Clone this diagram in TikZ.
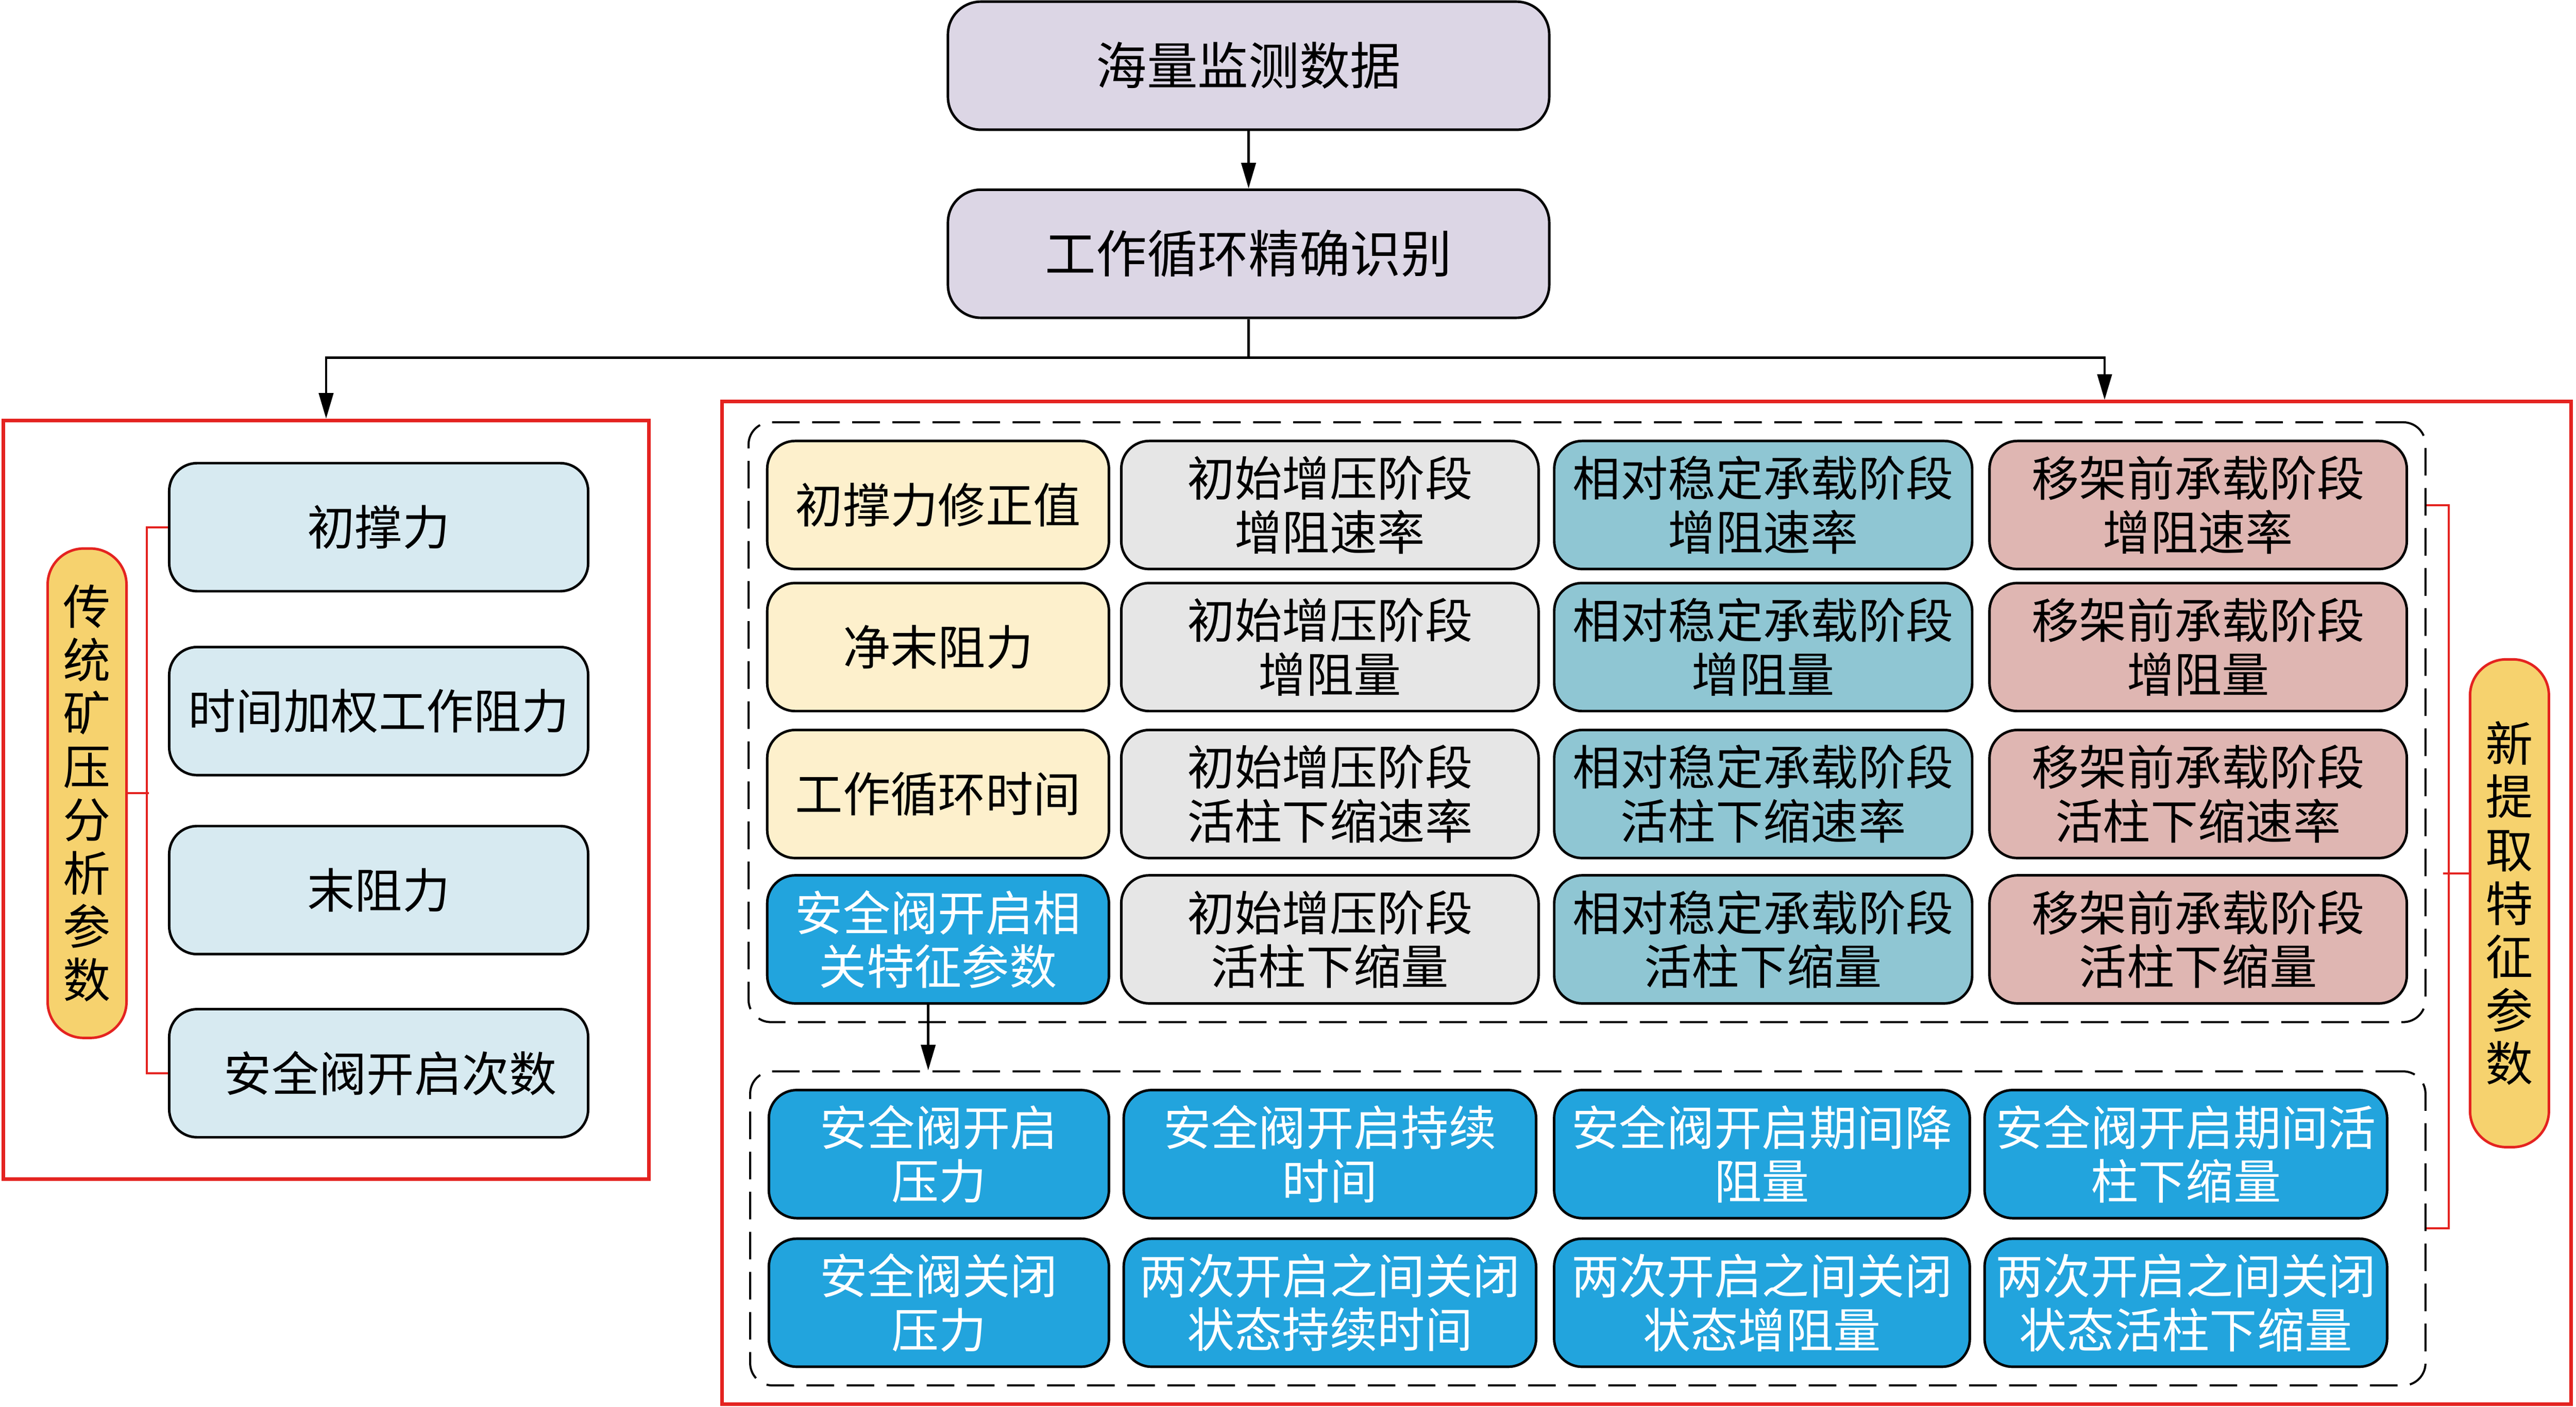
\documentclass[tikz,border=0pt]{standalone}
\usepackage{fontspec}
\setmainfont{Noto Sans CJK SC}
\usetikzlibrary{positioning,arrows.meta,fit}

\definecolor{boxpurple}{HTML}{DCD6E5}
\definecolor{boxltblue}{HTML}{D7EAF1}
\definecolor{labyellow}{HTML}{F6D26E}
\definecolor{cellcream}{HTML}{FDF0CC}
\definecolor{cellgray}{HTML}{E6E6E6}
\definecolor{cellteal}{HTML}{8FC6D3}
\definecolor{cellpink}{HTML}{DFB6B2}
\definecolor{cellblue}{HTML}{22A4DD}
\definecolor{framered}{HTML}{E42320}

\tikzset{
  base/.style={draw=black, line width=1.1pt, rounded corners=4.25mm, align=center,
    inner sep=0pt, font=\fontsize{20.6pt}{23.3pt}\selectfont},
  topbox/.style={base, fill=boxpurple, minimum width=91.5mm, minimum height=19.5mm,
    rounded corners=5mm, font=\fontsize{22pt}{26pt}\selectfont},
  lbox/.style={base, fill=boxltblue, minimum width=63.75mm, minimum height=19.5mm},
  cell/.style={base, minimum height=19.5mm},
  wa/.style={minimum width=52mm},
  wb/.style={minimum width=63.5mm},
  wc/.style={minimum width=63.6mm},
  vlab/.style={draw=framered, line width=1.1pt, fill=labyellow, rounded corners=5.5mm,
    minimum width=12mm, align=center, inner sep=0pt, font=\fontsize{20.6pt}{23.1pt}\selectfont},
  frame/.style={draw=framered, line width=1.5pt, inner sep=0pt},
  group/.style={draw, line width=0.9pt, dash pattern=on 4.2mm off 1.9mm,
    rounded corners=3.4mm, inner sep=2.65mm},
  arr/.style={-{Triangle[length=3.9mm,width=2.2mm]}, line width=1pt},
  redln/.style={draw=framered, line width=0.9pt}
}

\begin{document}
\begin{tikzpicture}[x=0.25mm, y=-0.25mm]
  \useasboundingbox (0,0) rectangle (1568,856.7);

  % data flow
  \node[topbox] (data) at (760,40) {海量监测数据};
  \node[topbox] (cycle) at (760,154.5) {工作循环精确识别};

  % traditional parameters
  \node[frame, minimum width=98.25mm, minimum height=115.5mm] (oldframe) at (198.5,487) {};
  \node[lbox] (cz) at (230.5,321) {初撑力};
  \node[lbox] (sj) at (230.5,433) {时间加权工作阻力};
  \node[lbox] (mz) at (230.5,542) {末阻力};
  \node[lbox] (aq) at (230.5,653.5) {\hspace*{0.5em}安全阀开启次数};
  \node[vlab, minimum height=74.5mm] (oldlab) at (53,483) {传\\统\\矿\\压\\分\\析\\参\\数};

  % new parameters
  \node[frame, minimum width=281.4mm, minimum height=152.6mm] (newframe) at (1002.25,549.75) {};
  \node[cell, wa, fill=cellcream] (a1) at (571,307.5) {初撑力修正值};
  \node[cell, wa, fill=cellcream] (a2) at (571,394) {净末阻力};
  \node[cell, wa, fill=cellcream] (a3) at (571,483.5) {工作循环时间};
  \node[cell, wa, fill=cellblue, text=white] (a4) at (571,572) {安全阀开启相\\关特征参数};

  \node[cell, wb, fill=cellgray] (b1) at (809.5,307.5) {初始增压阶段\\增阻速率};
  \node[cell, wb, fill=cellgray] (b2) at (809.5,394) {初始增压阶段\\增阻量};
  \node[cell, wb, fill=cellgray] (b3) at (809.5,483.5) {初始增压阶段\\活柱下缩速率};
  \node[cell, wb, fill=cellgray] (b4) at (809.5,572) {初始增压阶段\\活柱下缩量};

  \node[cell, wc, fill=cellteal] (c1) at (1073.25,307.5) {相对稳定承载阶段\\增阻速率};
  \node[cell, wc, fill=cellteal] (c2) at (1073.25,394) {相对稳定承载阶段\\增阻量};
  \node[cell, wc, fill=cellteal] (c3) at (1073.25,483.5) {相对稳定承载阶段\\活柱下缩速率};
  \node[cell, wc, fill=cellteal] (c4) at (1073.25,572) {相对稳定承载阶段\\活柱下缩量};

  \node[cell, wb, fill=cellpink] (d1) at (1338,307.5) {移架前承载阶段\\增阻速率};
  \node[cell, wb, fill=cellpink] (d2) at (1338,394) {移架前承载阶段\\增阻量};
  \node[cell, wb, fill=cellpink] (d3) at (1338,483.5) {移架前承载阶段\\活柱下缩速率};
  \node[cell, wb, fill=cellpink] (d4) at (1338,572) {移架前承载阶段\\活柱下缩量};

  % safety valve parameters
  \node[cell, fill=cellblue, text=white, minimum width=51.75mm] (e1) at (571.5,702.75) {安全阀开启\\压力};
  \node[cell, fill=cellblue, text=white, minimum width=62.75mm] (e2) at (809.5,702.75) {安全阀开启持续\\时间};
  \node[cell, fill=cellblue, text=white, minimum width=63.25mm] (e3) at (1072.5,702.75) {安全阀开启期间降\\阻量};
  \node[cell, fill=cellblue, text=white, minimum width=61.25mm] (e4) at (1330.5,702.75) {安全阀开启期间活\\柱下缩量};
  \node[cell, fill=cellblue, text=white, minimum width=51.75mm] (f1) at (571.5,793.25) {安全阀关闭\\压力};
  \node[cell, fill=cellblue, text=white, minimum width=62.75mm] (f2) at (809.5,793.25) {两次开启之间关闭\\状态持续时间};
  \node[cell, fill=cellblue, text=white, minimum width=63.25mm] (f3) at (1072.5,793.25) {两次开启之间关闭\\状态增阻量};
  \node[cell, fill=cellblue, text=white, minimum width=61.25mm] (f4) at (1330.5,793.25) {两次开启之间关闭\\状态活柱下缩量};

  \node[group, fit=(a1)(d4)] (g1) {};
  \node[group, fit=(e1)(f4)(d4.east |- f4)] (g2) {};
  \node[vlab, minimum height=74.25mm] (newlab) at (1527.5,550) {新\\提\\取\\特\\征\\参\\数};

  % connectors
  \coordinate (split) at ([yshift=-5.875mm]cycle.south);
  \draw[arr] (data) -- (cycle);
  \draw[arr] (cycle.south) -- (split) -| (oldframe.north);
  \draw[arr] (split) -| ([xshift=69.7mm]newframe.north);
  \draw[arr] ([xshift=-1.5mm]a4.south) -- ([xshift=-1.5mm]a4.south |- g2.north);

  % brackets
  \draw[redln] (cz.west) -- ++(-3.25mm,0) |- (aq.west);
  \draw[redln] (oldlab.east) -- ++(3.25mm,0);
  \draw[redln] (g1.east |- d1) -- ++(3.4mm,0) |- (g2.east);
  \draw[redln] ([yshift=4.5mm]newlab.west) -- ++(-3.9mm,0);
\end{tikzpicture}
\end{document}
